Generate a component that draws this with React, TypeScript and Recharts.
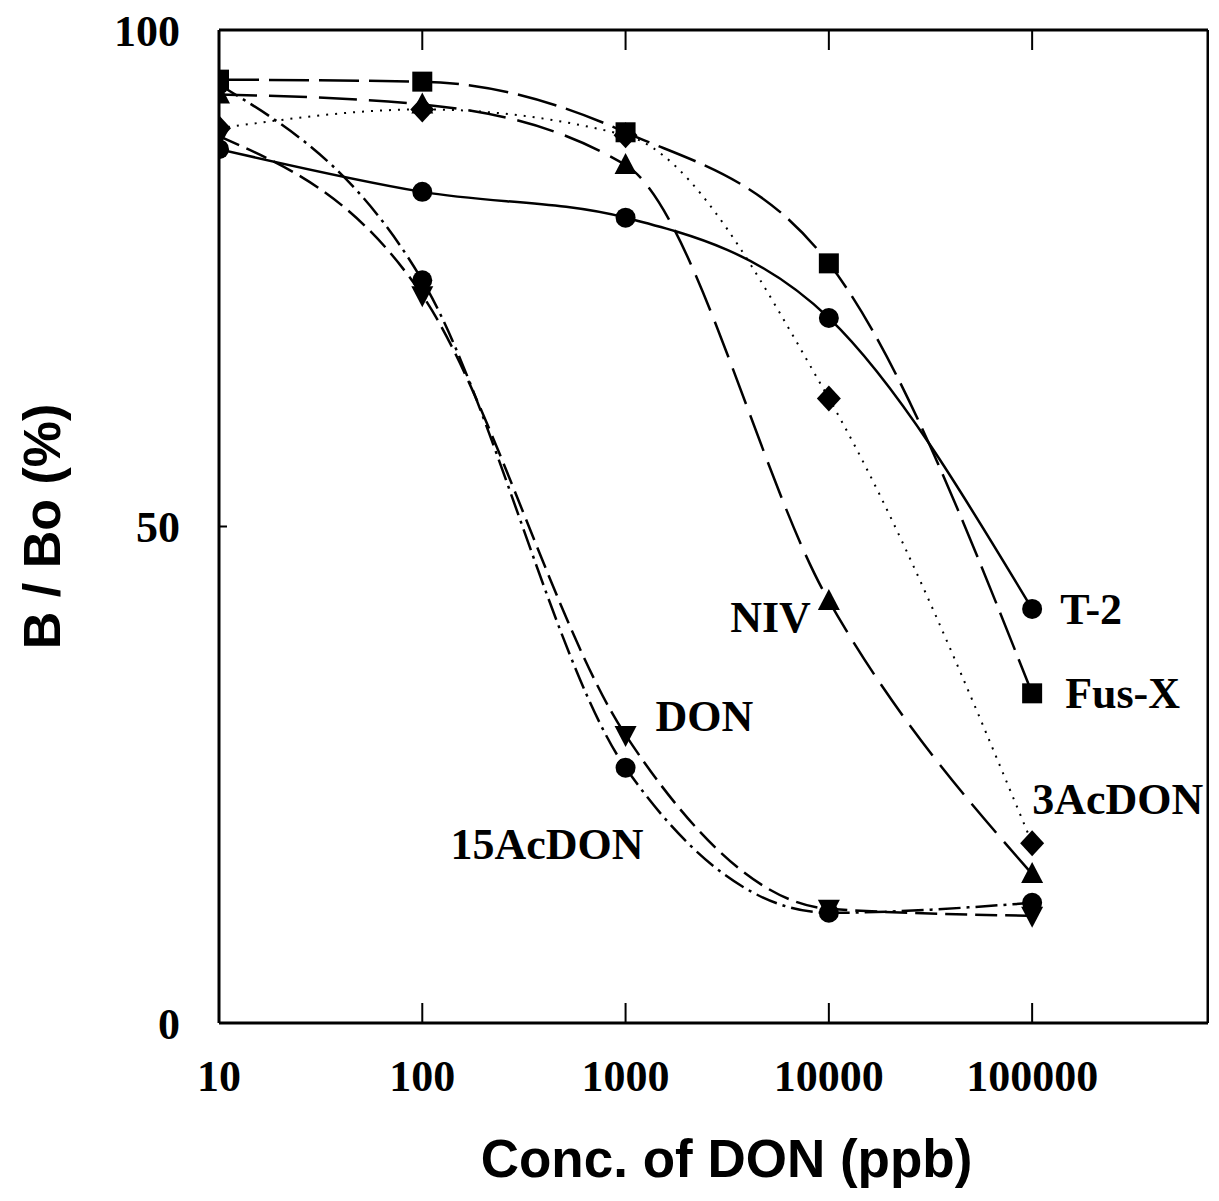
import React from 'react';
import {LineChart, Line, XAxis, YAxis, LabelList, Label} from 'recharts';

// concentrations (ppb) and B/Bo (%)
const conc = [10, 100, 1000, 10000, 100000];
const t2 = [88, 83.7, 81.1, 71, 41.7];
const fusX = [95, 94.8, 89.7, 76.5, 33.2];
const acDon3 = [90.1, 92, 89.4, 62.9, 18.1];
const niv = [93.5, 92.5, 86.4, 42.5, 15];
const don = [89.3, 73.3, 29, 11.5, 10.8];
const acDon15 = [94.5, 74.8, 25.7, 11.1, 12.1];

const xTicks = [10, 100, 1000, 10000, 100000];
const yTicks = [0, 50, 100];
const xMax = 733000; // frame ends a bit short of the next decade

const data = conc.map((x, i) => ({
    x,
    t2: t2[i],
    fusX: fusX[i],
    acDon3: acDon3[i],
    niv: niv[i],
    don: don[i],
    acDon15: acDon15[i],
}));

const series = [
    {key: 't2', name: 'T-2', shape: 'circle', dash: undefined, width: 2.5, label: {idx: 4, dx: 28, dy: 15, anchor: 'start'}},
    {key: 'fusX', name: 'Fus-X', shape: 'square', dash: '40 10', width: 2.5, label: {idx: 4, dx: 33, dy: 15, anchor: 'start'}},
    {key: 'acDon3', name: '3AcDON', shape: 'diamond', dash: '2 7', width: 2, label: {idx: 4, dx: 0, dy: -29, anchor: 'start'}},
    {key: 'niv', name: 'NIV', shape: 'up', dash: '38 12', width: 2.5, label: {idx: 3, dx: -18, dy: 31, anchor: 'end'}},
    {key: 'don', name: 'DON', shape: 'down', dash: '22 8', width: 2.5, label: {idx: 2, dx: 30, dy: -4, anchor: 'start'}},
    {key: 'acDon15', name: '15AcDON', shape: 'circle', dash: '22 6 3 6', width: 2.5, label: {idx: 2, dx: 18, dy: 91, anchor: 'end'}},
];

const serif = {fontFamily: '"Liberation Serif", "Times New Roman", serif', fontSize: 44, fontWeight: 'bold', fill: '#000'};
const sans = '"Liberation Sans", Arial, sans-serif';
const axisLine = {stroke: '#000', strokeWidth: 3};
const tickLine = {stroke: '#000', strokeWidth: 2};
const noLabel = () => <g/>;

function Marker(props: any) {
    const {cx, cy, shape} = props;
    if (cx == null || cy == null) return <g/>;
    if (shape === 'square')
        return <rect x={cx - 10} y={cy - 10} width={20} height={20} fill="#000"/>;
    if (shape === 'diamond')
        return <polygon points={`${cx},${cy - 13} ${cx + 12},${cy} ${cx},${cy + 13} ${cx - 12},${cy}`} fill="#000"/>;
    if (shape === 'up')
        return <polygon points={`${cx},${cy - 12} ${cx + 11},${cy + 9} ${cx - 11},${cy + 9}`} fill="#000"/>;
    if (shape === 'down')
        return <polygon points={`${cx - 11},${cy - 9} ${cx + 11},${cy - 9} ${cx},${cy + 12}`} fill="#000"/>;
    return <circle cx={cx} cy={cy} r={10} fill="#000"/>;
}

export default function App() {
    return (
        <LineChart width={1201} height={1180} data={data}
                   margin={{top: 21, right: 0, left: 151, bottom: 85}}>
            <XAxis dataKey="x" type="number" scale="log" domain={[10, xMax]} allowDataOverflow
                   ticks={xTicks} interval={0} height={80}
                   tickSize={-20} tickMargin={57} tick={serif}
                   axisLine={axisLine} tickLine={tickLine}>
                <Label content={(p: any) => {
                    const vb = p.viewBox;
                    return <text x={vb.x + vb.width / 2 + 13} y={vb.y + vb.height + 74} textAnchor="middle"
                                 fontFamily={sans} fontSize={53} fontWeight="bold" fill="#000">
                        Conc. of DON (ppb)
                    </text>;
                }}/>
            </XAxis>
            <XAxis xAxisId="top" orientation="top" dataKey="x" type="number" scale="log" domain={[10, xMax]}
                   allowDataOverflow ticks={xTicks} interval={0} height={1}
                   tickSize={-20} tick={noLabel}
                   axisLine={axisLine} tickLine={tickLine}/>
            <YAxis type="number" domain={[0, 100]} ticks={yTicks} interval={0} width={60}
                   tickSize={-8} tickMargin={47} tick={serif}
                   axisLine={axisLine} tickLine={tickLine}>
                <Label content={(p: any) => {
                    const vb = p.viewBox;
                    const cx = vb.x - 99;
                    const cy = vb.y + vb.height / 2;
                    return <text x={cx} y={cy} transform={`rotate(-90, ${cx}, ${cy})`} textAnchor="middle"
                                 fontFamily={sans} fontSize={52} fontWeight="bold" fill="#000">
                        B / Bo (%)
                    </text>;
                }}/>
            </YAxis>
            <YAxis yAxisId="right" orientation="right" type="number" domain={[0, 100]} ticks={yTicks}
                   interval={0} width={1} tickSize={-14} tick={noLabel}
                   axisLine={axisLine} tickLine={tickLine}/>
            {series.map(s => (
                <Line key={s.key} type="monotone" dataKey={s.key} name={s.name}
                      stroke="#000" strokeWidth={s.width} strokeDasharray={s.dash}
                      isAnimationActive={false}
                      dot={(p: any) => <Marker key={`${s.key}-${p.index}`} cx={p.cx} cy={p.cy} shape={s.shape}/>}
                      activeDot={false}>
                    <LabelList dataKey={s.key} content={(p: any) => {
                        if (p.index !== s.label.idx) return null;
                        return <text x={p.x + s.label.dx} y={p.y + s.label.dy} textAnchor={s.label.anchor}
                                     {...serif}>{s.name}</text>;
                    }}/>
                </Line>
            ))}
        </LineChart>
    );
}
